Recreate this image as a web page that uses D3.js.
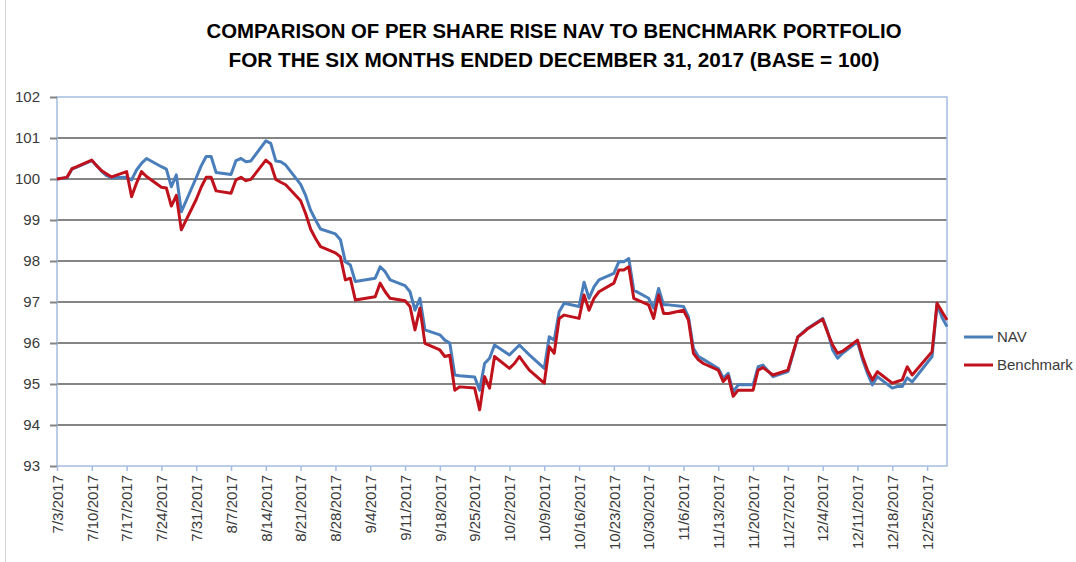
<!DOCTYPE html>
<html>
<head>
<meta charset="utf-8">
<script src="https://cdn.jsdelivr.net/npm/d3@7"></script>
<style>
  body { margin: 0; background: #ffffff; }
  svg { display: block; }
</style>
</head>
<body>
<script>
// chart data (trading days, base = 100)
var dates = ["7/3/2017","7/5/2017","7/6/2017","7/7/2017","7/10/2017","7/11/2017","7/12/2017","7/13/2017","7/14/2017",
  "7/17/2017","7/18/2017","7/19/2017","7/20/2017","7/21/2017","7/24/2017","7/25/2017","7/26/2017","7/27/2017","7/28/2017",
  "7/31/2017","8/1/2017","8/2/2017","8/3/2017","8/4/2017","8/7/2017","8/8/2017","8/9/2017","8/10/2017","8/11/2017",
  "8/14/2017","8/15/2017","8/16/2017","8/17/2017","8/18/2017","8/21/2017","8/22/2017","8/23/2017","8/24/2017","8/25/2017",
  "8/28/2017","8/29/2017","8/30/2017","8/31/2017","9/1/2017","9/5/2017","9/6/2017","9/7/2017","9/8/2017",
  "9/11/2017","9/12/2017","9/13/2017","9/14/2017","9/15/2017","9/18/2017","9/19/2017","9/20/2017","9/21/2017","9/22/2017",
  "9/25/2017","9/26/2017","9/27/2017","9/28/2017","9/29/2017","10/2/2017","10/3/2017","10/4/2017","10/5/2017","10/6/2017",
  "10/9/2017","10/10/2017","10/11/2017","10/12/2017","10/13/2017","10/16/2017","10/17/2017","10/18/2017","10/19/2017","10/20/2017",
  "10/23/2017","10/24/2017","10/25/2017","10/26/2017","10/27/2017","10/30/2017","10/31/2017","11/1/2017","11/2/2017","11/3/2017",
  "11/6/2017","11/7/2017","11/8/2017","11/9/2017","11/10/2017","11/13/2017","11/14/2017","11/15/2017","11/16/2017","11/17/2017",
  "11/20/2017","11/21/2017","11/22/2017","11/24/2017","11/27/2017","11/28/2017","11/29/2017","11/30/2017","12/1/2017",
  "12/4/2017","12/5/2017","12/6/2017","12/7/2017","12/8/2017","12/11/2017","12/12/2017","12/13/2017","12/14/2017","12/15/2017",
  "12/18/2017","12/19/2017","12/20/2017","12/21/2017","12/22/2017","12/26/2017","12/27/2017","12/28/2017","12/29/2017"];

var nav = [100.00,100.03,100.24,100.29,100.45,100.32,100.18,100.08,100.03,
  100.04,99.98,100.22,100.38,100.50,100.30,100.24,99.81,100.10,99.20,
  100.03,100.32,100.55,100.55,100.16,100.11,100.45,100.50,100.42,100.44,
  100.93,100.87,100.44,100.42,100.34,99.87,99.60,99.24,99.00,98.78,
  98.66,98.52,97.98,97.90,97.50,97.58,97.86,97.74,97.54,
  97.40,97.25,96.80,97.09,96.32,96.20,96.07,96.00,95.22,95.20,
  95.17,94.85,95.50,95.63,95.95,95.71,95.83,95.95,95.83,95.71,
  95.38,96.15,96.07,96.76,96.97,96.89,97.48,97.09,97.37,97.54,
  97.70,97.98,97.98,98.06,97.29,97.09,96.85,97.33,96.93,96.93,
  96.89,96.64,95.87,95.67,95.60,95.38,95.14,95.26,94.81,94.98,
  94.98,95.42,95.46,95.18,95.30,95.71,96.15,96.26,96.36,
  96.60,96.28,95.83,95.63,95.75,96.03,95.60,95.26,94.98,95.18,
  94.90,94.94,94.94,95.15,95.05,95.67,96.95,96.62,96.40];

var benchmark = [100.00,100.04,100.25,100.30,100.46,100.32,100.20,100.12,100.05,
  100.18,99.57,99.90,100.18,100.06,99.80,99.78,99.34,99.60,98.76,
  99.50,99.80,100.04,100.04,99.71,99.65,99.98,100.04,99.96,99.99,
  100.46,100.36,99.99,99.92,99.86,99.47,99.16,98.78,98.55,98.35,
  98.20,98.10,97.54,97.58,97.05,97.13,97.46,97.25,97.09,
  97.03,96.89,96.32,96.85,95.99,95.83,95.67,95.70,94.85,94.93,
  94.90,94.37,95.18,94.90,95.67,95.38,95.50,95.67,95.50,95.34,
  95.02,95.91,95.75,96.60,96.68,96.60,97.17,96.80,97.09,97.25,
  97.46,97.78,97.78,97.86,97.09,96.93,96.60,97.17,96.72,96.72,
  96.80,96.56,95.75,95.59,95.50,95.34,95.06,95.20,94.70,94.85,
  94.85,95.34,95.40,95.22,95.34,95.75,96.15,96.24,96.35,
  96.58,96.25,95.95,95.75,95.80,96.07,95.67,95.34,95.10,95.30,
  95.02,95.06,95.10,95.42,95.22,95.79,96.97,96.76,96.56];

var xTickLabels = ["7/3/2017","7/10/2017","7/17/2017","7/24/2017","7/31/2017","8/7/2017","8/14/2017","8/21/2017",
  "8/28/2017","9/4/2017","9/11/2017","9/18/2017","9/25/2017","10/2/2017","10/9/2017","10/16/2017","10/23/2017",
  "10/30/2017","11/6/2017","11/13/2017","11/20/2017","11/27/2017","12/4/2017","12/11/2017","12/18/2017","12/25/2017"];
var yTicks = [93, 94, 95, 96, 97, 98, 99, 100, 101, 102];
var seriesNames = ["NAV", "Benchmark"];
var seriesColors = ["#4a7ebb", "#c0121c"];
var titleLines = ["COMPARISON OF PER SHARE RISE NAV TO BENCHMARK PORTFOLIO",
  "FOR THE SIX MONTHS ENDED DECEMBER 31, 2017 (BASE = 100)"];

var w = 1076;
var h = 562;
var plot = {left: 57, top: 97, right: 947, bottom: 466};
var parseDate = d3.timeParse("%m/%d/%Y");

var xScale = d3.scaleTime()
  .domain([parseDate("7/3/2017"), parseDate("12/29/2017")])
  .range([plot.left, plot.right]);

var yScale = d3.scaleLinear()
  .domain([93, 102])
  .range([plot.bottom, plot.top]);

var svg = d3.select("body")
  .append("svg")
  .attr("width", w)
  .attr("height", h);

// faint frame line on the left edge of the picture
svg.append("line")
  .attr("x1", 5.5).attr("x2", 5.5)
  .attr("y1", 0).attr("y2", h)
  .attr("stroke", "#d4d4d4")
  .attr("stroke-width", 1);

// title
svg.selectAll("text.title")
  .data(titleLines)
  .enter()
  .append("text")
  .attr("class", "title")
  .attr("x", 554)
  .attr("y", function(d, i) { return 38 + i * 29; })
  .attr("text-anchor", "middle")
  .attr("font-family", "Liberation Sans, Arial, sans-serif")
  .attr("font-weight", "bold")
  .attr("font-size", "21px")
  .attr("fill", "#000")
  .attr("textLength", function(d, i) { return i == 0 ? 695 : 651; })
  .attr("lengthAdjust", "spacingAndGlyphs")
  .text(function(d) { return d; });

// horizontal gridlines
svg.append("g")
  .selectAll("line")
  .data(yTicks.filter(function(d) { return d > 93 && d < 102; }))
  .enter()
  .append("line")
  .attr("x1", plot.left)
  .attr("x2", plot.right)
  .attr("y1", function(d) { return yScale(d); })
  .attr("y2", function(d) { return yScale(d); })
  .attr("stroke", "#858585")
  .attr("stroke-width", 2);

// plot border
svg.append("rect")
  .attr("x", plot.left)
  .attr("y", plot.top)
  .attr("width", plot.right - plot.left)
  .attr("height", plot.bottom - plot.top)
  .attr("fill", "none")
  .attr("stroke", "#a4bde0")
  .attr("stroke-width", 1.5);

// y axis
var yAxis = svg.append("g")
  .attr("transform", "translate(" + plot.left + ",0)")
  .call(d3.axisLeft(yScale).tickValues(yTicks).tickSize(7).tickPadding(10).tickFormat(d3.format("d")));
yAxis.select(".domain").remove();
yAxis.selectAll("line").attr("stroke", "#858585").attr("stroke-width", 2);
yAxis.selectAll("text")
  .attr("font-family", "Liberation Sans, Arial, sans-serif")
  .attr("font-size", "15px")
  .attr("fill", "#3a3a3a");

// x axis
var xAxis = svg.append("g")
  .attr("transform", "translate(0," + plot.bottom + ")")
  .call(d3.axisBottom(xScale)
    .tickValues(xTickLabels.map(parseDate))
    .tickSize(5)
    .tickFormat(function(d, i) { return xTickLabels[i]; }));
xAxis.select(".domain").remove();
xAxis.selectAll("line").attr("stroke", "#a4bde0").attr("stroke-width", 1.5);
xAxis.selectAll("text")
  .attr("font-family", "Liberation Sans, Arial, sans-serif")
  .attr("font-size", "15px")
  .attr("fill", "#3a3a3a")
  .attr("text-anchor", "end")
  .attr("transform", "rotate(-90)")
  .attr("x", -9)
  .attr("y", 0)
  .attr("dy", "0.35em");

// lines
var series = [nav, benchmark];
var line = d3.line()
  .x(function(d, i) { return xScale(parseDate(dates[i])); })
  .y(function(d) { return yScale(d); });

svg.append("g")
  .selectAll("path")
  .data(series)
  .enter()
  .append("path")
  .attr("d", line)
  .attr("fill", "none")
  .attr("stroke", function(d, i) { return seriesColors[i]; })
  .attr("stroke-width", 3)
  .attr("stroke-linejoin", "round");

// legend
var legend = svg.append("g")
  .selectAll("g")
  .data(seriesNames)
  .enter()
  .append("g")
  .attr("transform", function(d, i) { return "translate(964," + (337 + i * 28) + ")"; });

legend.append("line")
  .attr("x1", 0)
  .attr("x2", 29)
  .attr("stroke", function(d, i) { return seriesColors[i]; })
  .attr("stroke-width", 3);

legend.append("text")
  .attr("x", 33)
  .attr("dy", "0.35em")
  .attr("font-family", "Liberation Sans, Arial, sans-serif")
  .attr("font-size", "15px")
  .attr("fill", "#3a3a3a")
  .text(function(d) { return d; });
</script>
</body>
</html>
